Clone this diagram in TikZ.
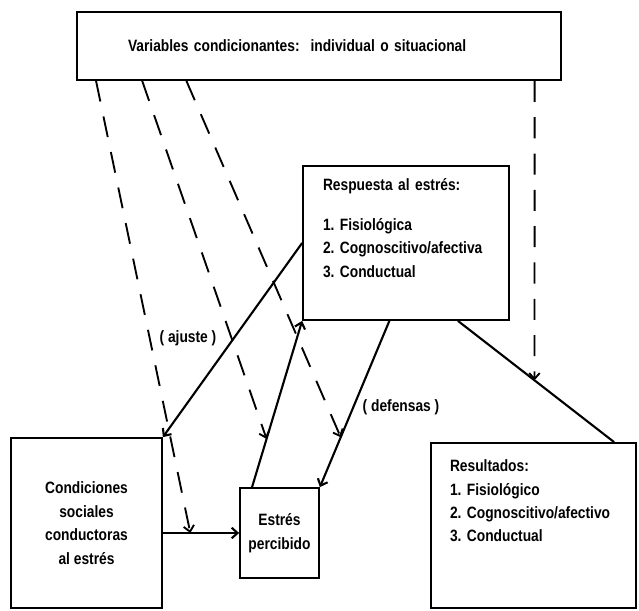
\documentclass[tikz,border=0pt]{standalone}
\usepackage{fontspec}
\setmainfont{Liberation Sans}[FakeStretch=0.84]
\usepackage{tikz}
\usetikzlibrary{arrows.meta, calc}
\newcommand{\unitpx}{0.03cm}
\newcommand{\diagfont}{\fontsize{14}{20}\selectfont\bfseries}
\tikzset{
  box/.style={rectangle, draw=black, line width=1.5pt, inner sep=0pt,
    font=\diagfont},
  lbl/.style={inner sep=1pt, font=\diagfont},
  arrow/.style={-{Straight Barb[length=5pt,width=9pt]}, line width=1.8pt},
  dasharrow/.style={-{Straight Barb[length=5pt,width=9pt]}, line width=1.6pt,
    dash pattern=on 18pt off 13pt},
  line/.style={line width=1.8pt}
}

\begin{document}
\begin{tikzpicture}[x=\unitpx, y=-\unitpx]
  \useasboundingbox (0,0) rectangle (639,610);

  % boxes
  \node[box, minimum width=484*\unitpx, minimum height=68*\unitpx,
    text width=382*\unitpx, align=left] (vars) at (319,46)
    {Variables condicionantes:\ \ individual o situacional};
  \node[box, minimum width=206*\unitpx, minimum height=154*\unitpx,
    text width=166*\unitpx, align=left] (resp) at (406,243)
    {Respuesta al estrés:\\[14pt]
     1.~Fisiológica\\ 2.~Cognoscitivo/afectiva\\ 3.~Conductual\\[6pt]\mbox{}};
  \node[box, minimum width=151*\unitpx, minimum height=170*\unitpx,
    align=center] (cond) at (86.5,523)
    {Condiciones\\ sociales\\ conductoras\\ al estrés};
  \node[box, minimum width=79*\unitpx, minimum height=90*\unitpx,
    align=center] (percib) at (279.5,533)
    {Estrés\\ percibido};
  \node[box, minimum width=205*\unitpx, minimum height=165*\unitpx,
    text width=167*\unitpx, align=left] (results) at (533.5,525.5)
    {Resultados:\\ 1.~Fisiológico\\ 2.~Cognoscitivo/afectivo\\ 3.~Conductual\\[22pt]\mbox{}};

  % solid connectors
  \draw[arrow] (cond.east |- percib.west) -- coordinate[pos=0.36] (onA) (percib.west);
  \draw[arrow] ($(percib.north west)!0.16!(percib.north east)$)
    -- coordinate[pos=0.29] (onB) (resp.south west);
  \draw[arrow] (resp.west) -- (cond.north east);
  \draw[arrow] ($(resp.south west)!0.42!(resp.south east)$)
    -- coordinate[pos=0.70] (onC) (percib.north east);
  \draw[line] ($(resp.south west)!0.75!(resp.south east)$)
    -- coordinate[pos=0.49] (onD) ($(results.north west)!0.89!(results.north east)$);

  % labels
  \node[lbl] (ajuste) at (188,338) {( ajuste )};
  \node[lbl] (defensas) at (401,407) {( defensas )};

  % conditioning variables
  \draw[dasharrow] ($(vars.south west)!0.041!(vars.south east)$) -- (onA);
  \draw[dasharrow] ($(vars.south west)!0.136!(vars.south east)$) -- (onB);
  \draw[dasharrow] ($(vars.south west)!0.227!(vars.south east)$) -- (onC);
  \draw[dasharrow] ($(vars.south west)!0.944!(vars.south east)$) -- (onD);
\end{tikzpicture}
\end{document}
